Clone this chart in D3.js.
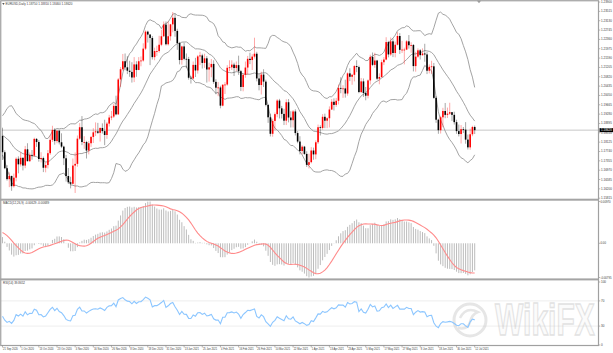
<!DOCTYPE html>
<html><head><meta charset="utf-8">
<script src="https://cdn.jsdelivr.net/npm/d3@7"></script>
<style>html,body{margin:0;padding:0;background:#fff;overflow:hidden}svg{display:block}text{font-family:"Liberation Sans",Arial,sans-serif}</style>
</head><body><svg id="c" width="613" height="353"></svg>
<script>
const symbolTitle = "EURUSD,Daily";
// closes before the first visible bar (Jul 1 - Sep 18 2020), used only to warm up the indicators
const warmupClose = [1.1250,1.1238,1.1245,1.1308,1.1274,1.1332,1.1287,1.1300,1.1343,1.1399,1.1413,1.1383,1.1428,1.1444,1.1527,1.1568,1.1596,1.1656,1.1752,1.1716,1.1790,1.1845,1.1778,
1.1762,1.1801,1.1876,1.1877,1.1786,1.1737,1.1739,1.1786,1.1813,1.1842,1.1870,1.1932,1.1837,1.1859,1.1796,1.1793,1.1831,1.1830,1.1821,1.1904,1.1936,
1.1914,1.1855,1.1850,1.1837,1.1815,1.1778,1.1800,1.1814,1.1845,1.1862,1.1846,1.1813,1.1849,1.1839];
// visible daily bars, 21 Sep 2020 .. 12 Jul 2021
const openP = [1.1838,1.1771,1.1705,1.1660,1.1673,1.1631,1.1666,1.1744,1.1721,1.1748,
1.1716,1.1783,1.1734,1.1760,1.1757,1.1826,1.1813,1.1743,1.1747,1.1707,
1.1718,1.1767,1.1822,1.1863,1.1817,1.1860,1.1812,1.1794,1.1746,1.1673,
1.1647,1.1641,1.1716,1.1723,1.1827,1.1874,1.1813,1.1813,1.1778,1.1808,
1.1834,1.1853,1.1857,1.1851,1.1871,1.1858,1.1842,1.1889,1.1914,1.1918,
1.1962,1.1927,1.2071,1.2113,1.2146,1.2121,1.2107,1.2102,1.2079,1.2133,
1.2110,1.2146,1.2149,1.2198,1.2268,1.2256,1.2242,1.2163,1.2188,1.2188,
1.2214,1.2249,1.2297,1.2216,1.2249,1.2298,1.2325,1.2271,1.2221,1.2151,
1.2207,1.2156,1.2155,1.2078,1.2075,1.2131,1.2108,1.2166,1.2170,1.2139,
1.2158,1.2112,1.2121,1.2135,1.2061,1.2037,1.2038,1.1963,1.2049,1.2050,
1.2119,1.2121,1.2132,1.2118,1.2130,1.2105,1.2040,1.2090,1.2120,1.2156,
1.2151,1.2165,1.2177,1.2075,1.2048,1.2091,1.2062,1.1966,1.1915,1.1847,
1.1900,1.1928,1.1984,1.1952,1.1929,1.1901,1.1977,1.1914,1.1903,1.1939,
1.1850,1.1815,1.1776,1.1794,1.1764,1.1719,1.1730,1.1778,1.1762,1.1812,
1.1874,1.1871,1.1917,1.1901,1.1911,1.1947,1.1979,1.1966,1.1983,1.2036,
1.2033,1.2034,1.2013,1.2096,1.2082,1.2090,1.2126,1.2122,1.2019,1.2063,
1.2015,1.2004,1.2067,1.2164,1.2131,1.2149,1.2074,1.2081,1.2142,1.2153,
1.2225,1.2174,1.2228,1.2180,1.2214,1.2250,1.2193,1.2194,1.2194,1.2228,
1.2212,1.2213,1.2126,1.2165,1.2191,1.2171,1.2178,1.2174,1.2107,1.2123,
1.2125,1.1995,1.1905,1.1862,1.1915,1.1941,1.1925,1.1930,1.1936,1.1925,
1.1895,1.1858,1.1846,1.1866,1.1864,1.1823,1.1791,1.1845,1.1875];
const highP = [1.1872,1.1779,1.1718,1.1688,1.1675,1.1683,1.1750,1.1754,1.1771,1.1749,
1.1797,1.1808,1.1770,1.1780,1.1831,1.1829,1.1821,1.1771,1.1753,1.1730,
1.1780,1.1841,1.1880,1.1870,1.1860,1.1861,1.1849,1.1798,1.1760,1.1706,
1.1670,1.1745,1.1770,1.1840,1.1891,1.1920,1.1837,1.1818,1.1817,1.1838,
1.1870,1.1894,1.1892,1.1873,1.1890,1.1905,1.1896,1.1925,1.1941,1.1971,
1.2004,1.2077,1.2122,1.2176,1.2178,1.2167,1.2148,1.2142,1.2163,1.2146,
1.2163,1.2166,1.2220,1.2273,1.2272,1.2258,1.2250,1.2202,1.2210,1.2251,
1.2276,1.2310,1.2310,1.2310,1.2300,1.2349,1.2341,1.2280,1.2226,1.2210,
1.2222,1.2178,1.2164,1.2085,1.2145,1.2160,1.2172,1.2185,1.2177,1.2177,
1.2167,1.2140,1.2155,1.2150,1.2072,1.2060,1.2045,1.2052,1.2060,1.2130,
1.2150,1.2150,1.2140,1.2145,1.2169,1.2110,1.2095,1.2145,1.2168,1.2181,
1.2175,1.2243,1.2185,1.2093,1.2103,1.2113,1.2070,1.1968,1.1930,1.1909,
1.1935,1.1990,1.1991,1.1962,1.1950,1.1989,1.1990,1.1940,1.1945,1.1948,
1.1858,1.1837,1.1800,1.1797,1.1775,1.1765,1.1792,1.1790,1.1820,1.1885,
1.1882,1.1928,1.1930,1.1915,1.1960,1.1990,1.1993,1.1995,1.2050,1.2080,
1.2047,1.2070,1.2100,1.2117,1.2094,1.2130,1.2150,1.2128,1.2077,1.2075,
1.2040,1.2071,1.2173,1.2182,1.2181,1.2152,1.2096,1.2152,1.2163,1.2245,
1.2230,1.2244,1.2240,1.2227,1.2266,1.2262,1.2230,1.2202,1.2233,1.2254,
1.2224,1.2217,1.2185,1.2199,1.2196,1.2199,1.2218,1.2184,1.2133,1.2148,
1.2139,1.2002,1.1909,1.1921,1.1954,1.1974,1.1955,1.1975,1.1937,1.1938,
1.1905,1.1885,1.1883,1.1875,1.1895,1.1844,1.1868,1.1880,1.1881];
const lowP = [1.1739,1.1701,1.1654,1.1627,1.1612,1.1625,1.1651,1.1684,1.1712,1.1696,
1.1705,1.1733,1.1731,1.1740,1.1751,1.1793,1.1732,1.1729,1.1689,1.1688,
1.1704,1.1760,1.1813,1.1802,1.1808,1.1803,1.1788,1.1718,1.1650,1.1640,
1.1622,1.1638,1.1603,1.1711,1.1822,1.1800,1.1785,1.1745,1.1762,1.1793,
1.1809,1.1838,1.1846,1.1815,1.1848,1.1800,1.1826,1.1877,1.1903,1.1912,
1.1923,1.1925,1.2040,1.2107,1.2109,1.2093,1.2082,1.2058,1.2060,1.2082,
1.2109,1.2125,1.2144,1.2192,1.2223,1.2130,1.2153,1.2150,1.2168,1.2181,
1.2208,1.2246,1.2211,1.2211,1.2231,1.2265,1.2247,1.2193,1.2133,1.2132,
1.2150,1.2117,1.2070,1.2054,1.2070,1.2081,1.2095,1.2130,1.2116,1.2119,
1.2058,1.2062,1.2080,1.2053,1.2010,1.2002,1.1952,1.1960,1.2011,1.2045,
1.2105,1.2110,1.2085,1.2105,1.2090,1.2023,1.2022,1.2078,1.2091,1.2134,
1.2110,1.2157,1.2063,1.2026,1.2009,1.2040,1.1960,1.1892,1.1836,1.1835,
1.1862,1.1915,1.1910,1.1910,1.1883,1.1883,1.1894,1.1873,1.1873,1.1840,
1.1808,1.1762,1.1762,1.1760,1.1710,1.1704,1.1725,1.1740,1.1742,1.1805,
1.1840,1.1864,1.1870,1.1870,1.1873,1.1945,1.1943,1.1958,1.1968,1.2014,
1.1995,1.1996,1.2004,1.2064,1.2049,1.2063,1.2101,1.2014,1.2015,1.1999,
1.1985,1.1993,1.2050,1.2126,1.2119,1.2068,1.2051,1.2079,1.2130,1.2150,
1.2162,1.2168,1.2163,1.2162,1.2211,1.2176,1.2180,1.2133,1.2192,1.2198,
1.2181,1.2104,1.2103,1.2160,1.2153,1.2169,1.2144,1.2093,1.2096,1.2094,
1.1991,1.1892,1.1847,1.1848,1.1874,1.1911,1.1912,1.1925,1.1900,1.1885,
1.1847,1.1836,1.1807,1.1850,1.1806,1.1782,1.1781,1.1837,1.1846];
const closeP = [1.1771,1.1705,1.1660,1.1673,1.1631,1.1666,1.1744,1.1721,1.1748,1.1716,
1.1783,1.1734,1.1760,1.1757,1.1826,1.1813,1.1743,1.1747,1.1707,1.1718,
1.1767,1.1822,1.1863,1.1817,1.1860,1.1812,1.1794,1.1746,1.1673,1.1647,
1.1641,1.1716,1.1723,1.1827,1.1874,1.1813,1.1813,1.1778,1.1808,1.1834,
1.1853,1.1857,1.1851,1.1871,1.1858,1.1842,1.1889,1.1914,1.1918,1.1962,
1.1927,1.2071,1.2113,1.2146,1.2121,1.2107,1.2102,1.2079,1.2133,1.2110,
1.2146,1.2149,1.2198,1.2268,1.2256,1.2242,1.2163,1.2188,1.2188,1.2214,
1.2249,1.2297,1.2216,1.2249,1.2298,1.2325,1.2271,1.2221,1.2151,1.2207,
1.2156,1.2155,1.2078,1.2075,1.2131,1.2108,1.2166,1.2170,1.2139,1.2158,
1.2112,1.2121,1.2135,1.2061,1.2037,1.2038,1.1963,1.2049,1.2050,1.2119,
1.2121,1.2132,1.2118,1.2130,1.2105,1.2040,1.2090,1.2120,1.2156,1.2151,
1.2165,1.2177,1.2075,1.2048,1.2091,1.2062,1.1966,1.1915,1.1847,1.1900,
1.1928,1.1984,1.1952,1.1929,1.1901,1.1977,1.1914,1.1903,1.1939,1.1850,
1.1815,1.1776,1.1794,1.1764,1.1719,1.1730,1.1778,1.1762,1.1812,1.1874,
1.1871,1.1917,1.1901,1.1911,1.1947,1.1979,1.1966,1.1983,1.2036,1.2033,
1.2034,1.2013,1.2096,1.2082,1.2090,1.2126,1.2122,1.2019,1.2063,1.2015,
1.2004,1.2067,1.2164,1.2131,1.2149,1.2074,1.2081,1.2142,1.2153,1.2225,
1.2174,1.2228,1.2180,1.2214,1.2250,1.2193,1.2194,1.2194,1.2228,1.2212,
1.2213,1.2126,1.2165,1.2191,1.2171,1.2178,1.2174,1.2107,1.2123,1.2125,
1.1995,1.1905,1.1862,1.1915,1.1941,1.1925,1.1930,1.1936,1.1925,1.1895,
1.1858,1.1846,1.1866,1.1864,1.1823,1.1791,1.1845,1.1875,1.1862];
// one date label every 8 bars
const dateLabels = ["21 Sep 2020","1 Oct 2020","13 Oct 2020","23 Oct 2020","4 Nov 2020","16 Nov 2020","26 Nov 2020","8 Dec 2020","18 Dec 2020","31 Dec 2020","13 Jan 2021","25 Jan 2021","4 Feb 2021","16 Feb 2021","26 Feb 2021","10 Mar 2021","22 Mar 2021","1 Apr 2021","13 Apr 2021","23 Apr 2021","5 May 2021","17 May 2021","27 May 2021","8 Jun 2021","18 Jun 2021","30 Jun 2021","12 Jul 2021"];
const priceTicks = [1.23900,1.23515,1.23130,1.22745,1.22360,1.21975,1.21590,1.21205,1.20820,1.20435,1.20050,1.19665,1.19280,1.18895,1.18510,1.18125,1.17740,1.17355,1.16970,1.16585,1.16200,1.15815];
const priceDomain = [1.15823, 1.23902];
const rsiTicks = [100, 70, 30, 0];
const rsiLevels = [70, 30];

// ---------- indicators (from closes) ----------
const allClose = warmupClose.concat(closeP);
const W = warmupClose.length, N = closeP.length;
function ema(a, n){ const k = 2/(n+1), o = []; a.forEach((v,i)=>o.push(i===0 ? v : o[i-1] + k*(v-o[i-1]))); return o; }
const e12 = ema(allClose,12), e26 = ema(allClose,26);
const macdAll = allClose.map((v,i)=>e12[i]-e26[i]);
const sigAll = macdAll.map((v,i)=> i<8 ? v : d3.mean(macdAll.slice(i-8,i+1)));
const rsiAll = new Array(allClose.length).fill(50);
{ let ag=0, al=0;
  for (let i=1;i<allClose.length;i++){
    const ch = allClose[i]-allClose[i-1], g = Math.max(ch,0), l = Math.max(-ch,0);
    if (i<=14){ ag += g/14; al += l/14; } else { ag = (ag*13+g)/14; al = (al*13+l)/14; }
    rsiAll[i] = al===0 ? 100 : 100 - 100/(1+ag/al);
  } }
const bbMid=[], bbUp=[], bbLo=[];
for (let i=0;i<allClose.length;i++){
  const s = allClose.slice(Math.max(0,i-19), i+1), m = d3.mean(s);
  const sd = Math.sqrt(d3.mean(s.map(v=>(v-m)*(v-m))));
  bbMid.push(m); bbUp.push(m+2*sd); bbLo.push(m-2*sd);
}
const vis = a => a.slice(W);
const macd = vis(macdAll), sig = vis(sigAll), rsi = vis(rsiAll);
const up = vis(bbUp), mid = vis(bbMid), lo = vis(bbLo);

// ---------- layout ----------
const svg = d3.select("#c");
const R = 598.5;
const MA = {top:201.5, bottom:277.5};
const RS = {top:282, bottom:345};
const x = d3.scaleLinear().domain([0, N-1]).range([2.5, 474.7]);
const y = d3.scaleLinear().domain(priceDomain).range([198, 2]);
const macdMin = d3.min(macd.concat(sig)), macdMax = d3.max(macd.concat(sig));
const ym = d3.scaleLinear().domain([macdMin, macdMax]).range([MA.bottom, MA.top]);
const yr = d3.scaleLinear().domain([0,100]).range([RS.bottom, RS.top]);
const txt = "#3a3a3a";

const defs = svg.append("defs");
defs.append("clipPath").attr("id","cm").append("rect").attr("x",1.5).attr("y",1.5).attr("width",R-1.5).attr("height",197);
defs.append("clipPath").attr("id","cr").append("rect").attr("x",1.5).attr("y",280.5).attr("width",R-1.5).attr("height",65);

// ---------- watermark (behind the marks) ----------
const wm = svg.append("g");
wm.append("circle").attr("cx",470).attr("cy",320).attr("r",16).attr("fill","none").attr("stroke","#e6e6e6").attr("stroke-width",3);
wm.append("path").attr("d","M460,318 Q466,306 478,312 Q472,314 470,322 Q468,330 458,328").attr("fill","none").attr("stroke","#e6e6e6").attr("stroke-width",2.5);
wm.append("text").attr("transform","translate(495,335) scale(1,1.5)").attr("font-size",30).attr("font-weight","bold")
  .attr("fill","#fbfbfb").attr("stroke","#e2e2e2").attr("stroke-width",0.9).text("WikiFX");

// ---------- main panel ----------
const gm = svg.append("g").attr("clip-path","url(#cm)");
const lastC = closeP[N-1];
gm.append("line").attr("x1",1.5).attr("x2",R).attr("y1",y(lastC)).attr("y2",y(lastC)).attr("stroke","#c8c8c8").attr("stroke-width",1);
const bandLine = d3.line().x((d,i)=>x(i)).y(d=>y(d));
[up, mid, lo].forEach(b => gm.append("path").attr("d", bandLine(b)).attr("fill","none").attr("stroke","#999").attr("stroke-width",0.9));
const idx = d3.range(N);
gm.selectAll(".wick").data(idx).join("line")
  .attr("x1",i=>x(i)).attr("x2",i=>x(i)).attr("y1",i=>y(highP[i])).attr("y2",i=>y(lowP[i]))
  .attr("stroke",i=> closeP[i]>=openP[i] ? "#ff0000" : "#000").attr("stroke-opacity",0.35).attr("stroke-width",1);
gm.selectAll(".body").data(idx).join("rect")
  .attr("x",i=>x(i)-0.8).attr("width",1.6)
  .attr("y",i=>Math.min(y(openP[i]),y(closeP[i])))
  .attr("height",i=>Math.max(0.8, Math.abs(y(openP[i])-y(closeP[i]))))
  .attr("fill",i=> closeP[i]>=openP[i] ? "#ff0000" : "#000");

// header
svg.append("path").attr("d","M2.2,3 L4.6,3 L3.4,5 Z").attr("fill","#555");
const f5 = v => v.toFixed(5);
svg.append("text").attr("x",5.5).attr("y",5.2).attr("font-size",3).attr("fill",txt)
  .text(`${symbolTitle}  ${f5(openP[N-1])} ${f5(highP[N-1])} ${f5(lowP[N-1])} ${f5(lastC)}`);
// chart-shift marker
svg.append("path").attr("d","M476.8,0.5 L481.2,0.5 L479,3.2 Z").attr("fill","#9a9a9a");

// price axis
priceTicks.forEach(p => {
  svg.append("line").attr("x1",R).attr("x2",R+1.8).attr("y1",y(p)).attr("y2",y(p)).attr("stroke","#888").attr("stroke-width",0.6);
  svg.append("text").attr("x",601).attr("y",y(p)+1).attr("font-size",3).attr("fill",txt).text(f5(p));
});
svg.append("rect").attr("x",599.5).attr("y",y(lastC)-2).attr("width",13.5).attr("height",4).attr("fill","#000");
svg.append("text").attr("x",601).attr("y",y(lastC)+1).attr("font-size",3).attr("fill","#fff").text(f5(lastC));

// ---------- MACD panel ----------
const gma = svg.append("g");
gma.selectAll(".h").data(idx).join("line")
  .attr("x1",i=>x(i)).attr("x2",i=>x(i)).attr("y1",ym(0)).attr("y2",i=>ym(macd[i]))
  .attr("stroke","#bcbcbc").attr("stroke-width",1);
gma.append("path").attr("d", d3.line().x((d,i)=>x(i)).y(d=>ym(d))(sig)).attr("fill","none").attr("stroke","#ff8a8a").attr("stroke-width",1.1);
svg.append("text").attr("x",3).attr("y",204.2).attr("font-size",3).attr("fill",txt)
  .text(`MACD(12,26,9) ${macd[N-1].toFixed(5)} ${sig[N-1].toFixed(5)}`);
const macdTicks = [macdMax, 0, macdMin];
macdTicks.forEach((v,k) => {
  svg.append("line").attr("x1",R).attr("x2",R+1.8).attr("y1",ym(v)).attr("y2",ym(v)).attr("stroke","#888").attr("stroke-width",0.6);
  svg.append("text").attr("x",600.5).attr("y",ym(v)+1).attr("font-size",2.8).attr("fill",txt).text(k===1 ? "0.00" : v.toFixed(5));
});

// ---------- RSI panel ----------
rsiLevels.forEach(l => svg.append("line").attr("x1",1.5).attr("x2",R).attr("y1",yr(l)).attr("y2",yr(l))
  .attr("stroke","#c4c4c4").attr("stroke-width",0.6).attr("stroke-dasharray","1,1"));
svg.append("g").attr("clip-path","url(#cr)").append("path")
  .attr("d", d3.line().x((d,i)=>x(i)).y(d=>yr(d))(rsi)).attr("fill","none").attr("stroke","#8cc6ff").attr("stroke-width",1.1);
svg.append("text").attr("x",3).attr("y",284.2).attr("font-size",3).attr("fill",txt).text(`RSI(14) ${rsi[N-1].toFixed(4)}`);
rsiTicks.forEach(v => {
  svg.append("line").attr("x1",R).attr("x2",R+1.8).attr("y1",yr(v)).attr("y2",yr(v)).attr("stroke","#888").attr("stroke-width",0.6);
  svg.append("text").attr("x",601).attr("y",yr(v)+1).attr("font-size",3).attr("fill",txt).text(v);
});

// ---------- frames ----------
svg.append("rect").attr("x",0.75).attr("y",0.75).attr("width",R-0.75).attr("height",345.5-0.75).attr("fill","none").attr("stroke","#a0a0a0").attr("stroke-width",1.2);
svg.append("rect").attr("x",0).attr("y",198.7).attr("width",R).attr("height",2).attr("fill","#a4a4a4");
svg.append("rect").attr("x",0).attr("y",278.4).attr("width",R).attr("height",2).attr("fill","#a4a4a4");

// ---------- date axis ----------
dateLabels.forEach((s,k) => {
  const xi = x(k*8);
  svg.append("line").attr("x1",xi).attr("x2",xi).attr("y1",345.5).attr("y2",347.5).attr("stroke","#888").attr("stroke-width",0.6);
  svg.append("text").attr("x",xi+0.6).attr("y",350.2).attr("font-size",2.6).attr("fill",txt).text(s);
});
</script></body></html>
